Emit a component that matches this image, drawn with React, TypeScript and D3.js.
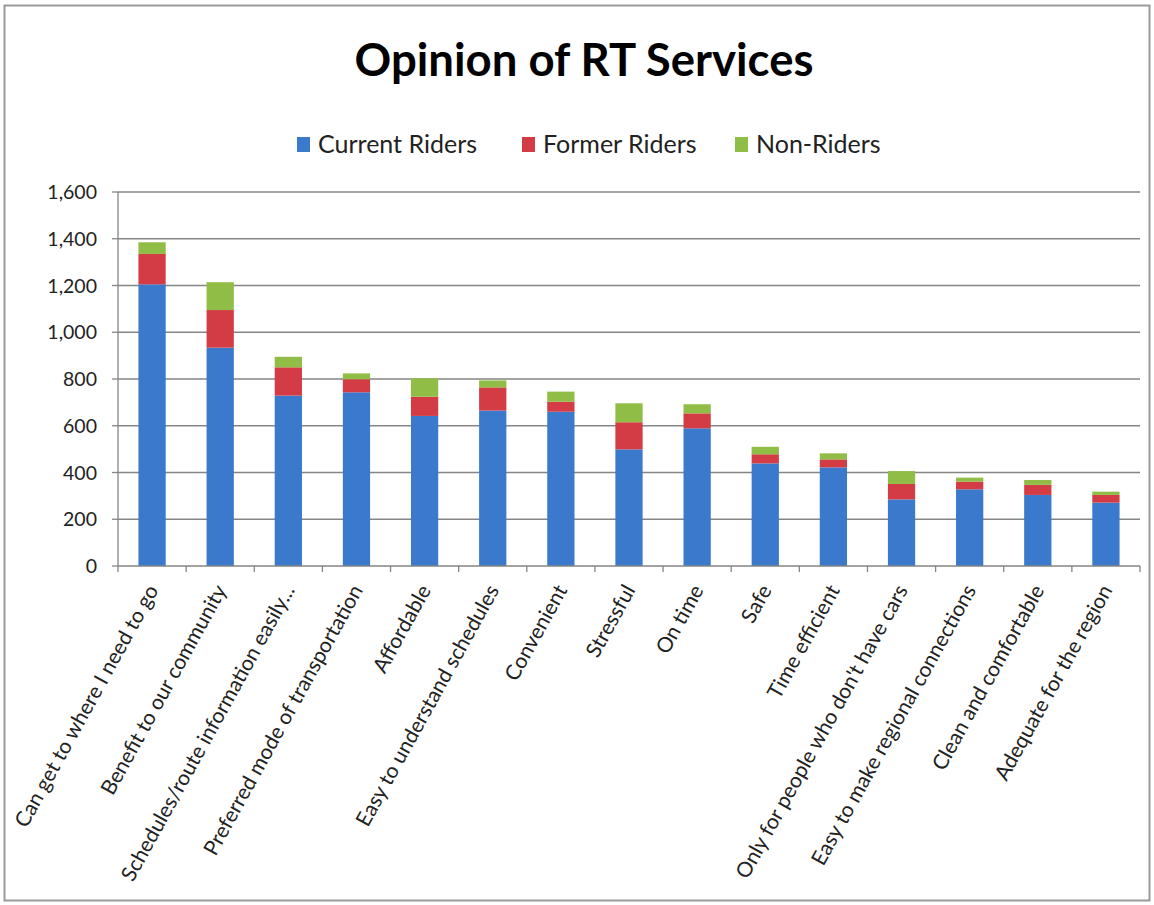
import React from "react";
import * as d3 from "d3";

const categories = [
  "Can get to where I need to go",
  "Benefit to our community",
  "Schedules/route information easily...",
  "Preferred mode of transportation",
  "Affordable",
  "Easy to understand schedules",
  "Convenient",
  "Stressful",
  "On time",
  "Safe",
  "Time efficient",
  "Only for people who don't have cars",
  "Easy to make regional connections",
  "Clean and comfortable",
  "Adequate for the region",
];
const currentRiders = [1205, 934, 729, 743, 642, 665, 660, 499, 589, 439, 422, 285, 328, 304, 271];
const formerRiders = [130, 161, 121, 56, 82, 99, 43, 116, 64, 39, 34, 66, 33, 43, 33];
const nonRiders = [50, 119, 45, 25, 79, 30, 43, 81, 39, 32, 26, 55, 17, 21, 14];
const seriesNames = ["Current Riders", "Former Riders", "Non-Riders"];
const seriesColors = ["#3a79cc", "#d43c45", "#8fbd45"];
const yTicks = [0, 200, 400, 600, 800, 1000, 1200, 1400, 1600];

const W = 1154;
const H = 905;
const FONT = "Lato, 'Open Sans', sans-serif";

export default function App() {
  const x = d3.scaleBand<string>().domain(categories).range([118, 1140]).paddingInner(0.6).paddingOuter(0.3);
  const xEdge = d3.scaleBand<string>().domain(categories).range([118, 1140]);
  const y = d3.scaleLinear().domain([0, 1600]).range([566, 192]);
  const rows = categories.map((c, i) => ({
    cat: c,
    "Current Riders": currentRiders[i],
    "Former Riders": formerRiders[i],
    "Non-Riders": nonRiders[i],
  }));
  const stack = d3.stack<any>().keys(seriesNames)(rows);
  const fmt = d3.format(",");
  const legendX = [297, 522, 735];

  return (
    <svg width={W} height={H} style={{ display: "block", position: "absolute", left: 0, top: 0 }} fontFamily={FONT}>
      <rect x={0} y={0} width={W} height={H} fill="#fff" />
      <rect x={4.5} y={5.5} width={W - 9} height={H - 10} fill="none" stroke="#9a9a9a" strokeWidth={2} />
      <text x={584} y={76} textAnchor="middle" fontSize={45.5} fontWeight={700} fill="#000">
        Opinion of RT Services
      </text>
      {seriesNames.map((s, i) => (
        <g key={s}>
          <rect x={legendX[i]} y={137} width={13} height={15} fill={seriesColors[i]} />
          <text x={legendX[i] + 21} y={153} fontSize={25} fill="#222">
            {s}
          </text>
        </g>
      ))}
      {yTicks.map((t) => (
        <g key={t}>
          {t > 0 && <line x1={118} x2={1140} y1={y(t)} y2={y(t)} stroke="#858585" strokeWidth={1.3} />}
          <line x1={112} x2={118} y1={y(t)} y2={y(t)} stroke="#858585" strokeWidth={1.3} />
          <text x={97} y={y(t) + 7} textAnchor="end" fontSize={19.5} fill="#222">
            {fmt(t)}
          </text>
        </g>
      ))}
      {stack.map((layer, si) => (
        <g key={seriesNames[si]} fill={seriesColors[si]}>
          {layer.map((d: any, i: number) => (
            <rect key={i} x={x(categories[i])} y={y(d[1])} width={x.bandwidth()} height={y(d[0]) - y(d[1])} />
          ))}
        </g>
      ))}
      <line x1={118} x2={118} y1={192} y2={566} stroke="#858585" strokeWidth={1.3} />
      <line x1={118} x2={1140} y1={566} y2={566} stroke="#858585" strokeWidth={1.3} />
      {categories.concat([""]).map((c, i) => {
        const xx = 118 + i * xEdge.step();
        return <line key={i} x1={xx} x2={xx} y1={566} y2={572} stroke="#858585" strokeWidth={1.3} />;
      })}
      {categories.map((c) => {
        const cx = (x(c) as number) + x.bandwidth() / 2 + 7;
        return (
          <text key={c} transform={`translate(${cx},${590}) rotate(-61)`} textAnchor="end" fontSize={21} fill="#222">
            {c}
          </text>
        );
      })}
    </svg>
  );
}
